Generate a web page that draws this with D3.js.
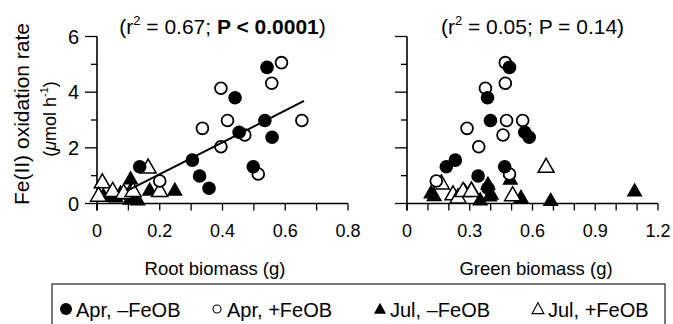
<!DOCTYPE html>
<html>
<head>
<meta charset="utf-8">
<script src="https://cdn.jsdelivr.net/npm/d3@7"></script>
<style>
  html, body { margin: 0; padding: 0; background: #fff; }
  svg { display: block; font-family: "Liberation Sans", Arial, Helvetica, sans-serif; }
</style>
</head>
<body>
<svg id="chart" width="673" height="324"></svg>
<script>
// ---------------- data ----------------
// Apr, -FeOB (filled circles): rate shared, biomass per panel
const aprMinusRate  = [4.89, 3.80, 2.98, 2.56, 2.38, 1.56, 1.32, 1.32, 0.99, 0.55];
const aprMinusRoot  = [0.542, 0.440, 0.535, 0.453, 0.558, 0.304, 0.136, 0.498, 0.327, 0.357];
const aprMinusGreen = [0.490, 0.385, 0.399, 0.563, 0.584, 0.231, 0.188, 0.467, 0.340, 0.387];

// Apr, +FeOB (open circles)
const aprPlusRate  = [5.06, 4.32, 4.14, 2.98, 2.98, 2.70, 2.46, 2.04, 1.06, 0.81];
const aprPlusRoot  = [0.588, 0.557, 0.395, 0.416, 0.653, 0.336, 0.471, 0.395, 0.514, 0.200];
const aprPlusGreen = [0.470, 0.470, 0.375, 0.476, 0.553, 0.287, 0.459, 0.343, 0.490, 0.140];

// Jul, -FeOB (filled triangles)
const julMinusRootX  = [0.107, 0.168, 0.248, 0.020, 0.040, 0.060, 0.075, 0.090, 0.105, 0.120, 0.130, 0.110];
const julMinusRootY  = [0.85, 0.45, 0.45, 0.25, 0.22, 0.20, 0.35, 0.30, 0.12, 0.25, 0.10, 0.50];
const julMinusGreenX = [0.115, 0.130, 0.276, 0.308, 0.350, 0.387, 0.395, 0.403, 0.494, 0.545, 0.687, 1.088];
const julMinusGreenY = [0.35, 0.25, 0.42, 0.49, 0.10, 0.66, 0.24, 0.30, 0.84, 0.19, 0.08, 0.42];

// Jul, +FeOB (open triangles)
const julPlusRootX  = [0.163, 0.017, 0.005, 0.050, 0.085, 0.115, 0.200];
const julPlusRootY  = [1.26, 0.73, 0.25, 0.42, 0.35, 0.42, 0.42];
const julPlusGreenX = [0.164, 0.220, 0.244, 0.268, 0.308, 0.505, 0.665];
const julPlusGreenY = [0.69, 0.30, 0.19, 0.42, 0.42, 0.27, 1.29];

// regression (root panel)
const fitSlope = 5.72, fitIntercept = -0.09, fitRange = [0.10, 0.66];

// axes / ticks
const yTicks = [0, 1, 2, 3, 4, 5, 6];
const yTickLabels = ["0", "", "2", "", "4", "", "6"];
const rootTicks = [0, 0.1, 0.2, 0.3, 0.4, 0.5, 0.6, 0.7, 0.8];
const rootTickLabels = ["0", "", "0.2", "", "0.4", "", "0.6", "", "0.8"];
const greenTicks = [0, 0.1, 0.2, 0.3, 0.4, 0.5, 0.6, 0.7, 0.8, 0.9, 1.0, 1.1, 1.2];
const greenTickLabels = ["0", "", "", "0.3", "", "", "0.6", "", "", "0.9", "", "", "1.2"];
const legendLabels = ["Apr, \u2013FeOB", "Apr, +FeOB", "Jul, \u2013FeOB", "Jul, +FeOB"];

// ---------------- layout ----------------
const svg = d3.select("#chart");
const yTop = 36.5, yBot = 203.5;
const y = d3.scaleLinear().domain([0, 6]).range([yBot, yTop]);
const xRoot = d3.scaleLinear().domain([0, 0.8]).range([97, 348]);
const xGreen = d3.scaleLinear().domain([0, 1.2]).range([407, 658]);

const FS_TICK = 18;
const R = 6.8;
const TRI_W = 16, TRI_H = 14;
const triPath = (cx, cy, w, h) => {
  const top = cy - h * 2 / 3, bot = cy + h / 3;
  return `M${cx},${top}L${cx + w / 2},${bot}L${cx - w / 2},${bot}Z`;
};

function drawPanel(x, ticks, tickLabels, showYLabels, title, series) {
  const g = svg.append("g");
  const x0 = x.range()[0];
  g.append("line").attr("x1", x0).attr("x2", x0)
    .attr("y1", yTop).attr("y2", yBot + 7).attr("stroke", "#000").attr("stroke-width", 1.6);
  yTicks.forEach((t, i) => {
    const len = (i % 2 === 0) ? 12 : 6;
    g.append("line").attr("x1", x0 - len).attr("x2", x0)
      .attr("y1", y(t)).attr("y2", y(t)).attr("stroke", "#000").attr("stroke-width", 1.3);
    if (showYLabels && yTickLabels[i]) {
      g.append("text").attr("x", x0 - 18).attr("y", y(t)).attr("dy", "0.36em")
        .attr("text-anchor", "end").attr("font-size", 20).text(yTickLabels[i]);
    }
  });
  g.append("line").attr("x1", x0).attr("x2", x.range()[1])
    .attr("y1", yBot).attr("y2", yBot).attr("stroke", "#000").attr("stroke-width", 1.6);
  ticks.forEach((t, i) => {
    g.append("line").attr("x1", x(t)).attr("x2", x(t))
      .attr("y1", yBot).attr("y2", yBot + 7).attr("stroke", "#000").attr("stroke-width", 1.3);
    if (tickLabels[i]) {
      g.append("text").attr("x", x(t)).attr("y", yBot + 33)
        .attr("text-anchor", "middle").attr("font-size", FS_TICK).text(tickLabels[i]);
    }
  });
  const cx = (x.range()[0] + x.range()[1]) / 2;
  const tt = g.append("text").attr("x", cx).attr("y", 34).attr("text-anchor", "middle")
    .attr("font-size", 21);
  title(tt);

  const pts = g.append("g");
  series.forEach(s => {
    s.xs.forEach((xv, i) => {
      const px = x(xv), py = y(s.ys[i]);
      if (s.shape === "circle") {
        pts.append("circle").attr("cx", px).attr("cy", py)
          .attr("r", s.filled ? R : R - 0.9)
          .attr("fill", s.filled ? "#000" : "#fff")
          .attr("stroke", "#000").attr("stroke-width", s.filled ? 0 : 1.8);
      } else {
        pts.append("path").attr("d", triPath(px, py, TRI_W, TRI_H))
          .attr("fill", s.filled ? "#000" : "#fff")
          .attr("stroke", "#000").attr("stroke-width", s.filled ? 0 : 1.5)
          .attr("stroke-linejoin", "miter");
      }
    });
  });
  return g;
}

const titleFn = (r2, p, bold) => t => {
  t.append("tspan").text("(r");
  t.append("tspan").attr("font-size", 13).attr("dy", -9).text("2");
  t.append("tspan").attr("dy", 9).text(` = ${r2}; `);
  const tp = t.append("tspan").text(p);
  if (bold) tp.attr("font-weight", "bold");
  t.append("tspan").text(")");
};

const left = drawPanel(xRoot, rootTicks, rootTickLabels, true, titleFn("0.67", "P < 0.0001", true), [
  { xs: julMinusRootX, ys: julMinusRootY, shape: "tri", filled: true },
  { xs: julPlusRootX, ys: julPlusRootY, shape: "tri", filled: false },
  { xs: aprPlusRoot, ys: aprPlusRate, shape: "circle", filled: false },
  { xs: aprMinusRoot, ys: aprMinusRate, shape: "circle", filled: true }
]);
left.append("path")
  .datum(fitRange)
  .attr("d", d3.line().x(d => xRoot(d)).y(d => y(fitSlope * d + fitIntercept)))
  .attr("stroke", "#000").attr("stroke-width", 2).attr("fill", "none");

drawPanel(xGreen, greenTicks, greenTickLabels, false, titleFn("0.05", "P = 0.14", false), [
  { xs: julMinusGreenX, ys: julMinusGreenY, shape: "tri", filled: true },
  { xs: julPlusGreenX, ys: julPlusGreenY, shape: "tri", filled: false },
  { xs: aprPlusGreen, ys: aprPlusRate, shape: "circle", filled: false },
  { xs: aprMinusGreen, ys: aprMinusRate, shape: "circle", filled: true }
]);

// axis titles
svg.append("text").attr("x", 215).attr("y", 275)
  .attr("text-anchor", "middle").attr("font-size", 18.5).text("Root biomass (g)");
svg.append("text").attr("x", 536).attr("y", 275)
  .attr("text-anchor", "middle").attr("font-size", 18.5).text("Green biomass (g)");

const yc = 114;
svg.append("text").attr("transform", `translate(29,${yc}) rotate(-90)`)
  .attr("text-anchor", "middle").attr("font-size", 21).text("Fe(II) oxidation rate");
const yl2 = svg.append("text").attr("transform", `translate(56,${yc + 5}) rotate(-90)`)
  .attr("text-anchor", "middle").attr("font-size", 18);
yl2.append("tspan").text("(");
yl2.append("tspan").attr("font-style", "italic").text("\u03bc");
yl2.append("tspan").text("mol h");
yl2.append("tspan").attr("font-size", 11).attr("dy", -8).text("-1");
yl2.append("tspan").attr("dy", 8).text(")");

// legend
const lg = svg.append("g");
lg.append("rect").attr("x", 52).attr("y", 284).attr("width", 613).attr("height", 46)
  .attr("fill", "none").attr("stroke", "#333").attr("stroke-width", 1.3);
const legX = [66, 217, 380, 538];
const legY = 310;
legendLabels.forEach((lab, i) => {
  const cx = legX[i], cy = legY;
  if (i === 0) lg.append("circle").attr("cx", cx).attr("cy", cy - 1).attr("r", 6).attr("fill", "#000");
  if (i === 1) lg.append("circle").attr("cx", cx).attr("cy", cy - 1).attr("r", 4).attr("fill", "none")
    .attr("stroke", "#000").attr("stroke-width", 1.1);
  if (i === 2) lg.append("path").attr("d", triPath(cx, cy, 12, 11)).attr("fill", "#000");
  if (i === 3) lg.append("path").attr("d", triPath(cx, cy, 12, 11)).attr("fill", "none")
    .attr("stroke", "#000").attr("stroke-width", 1.1);
  lg.append("text").attr("x", cx + 10).attr("y", legY + 7).attr("font-size", 20).text(lab);
});
</script>
</body>
</html>
